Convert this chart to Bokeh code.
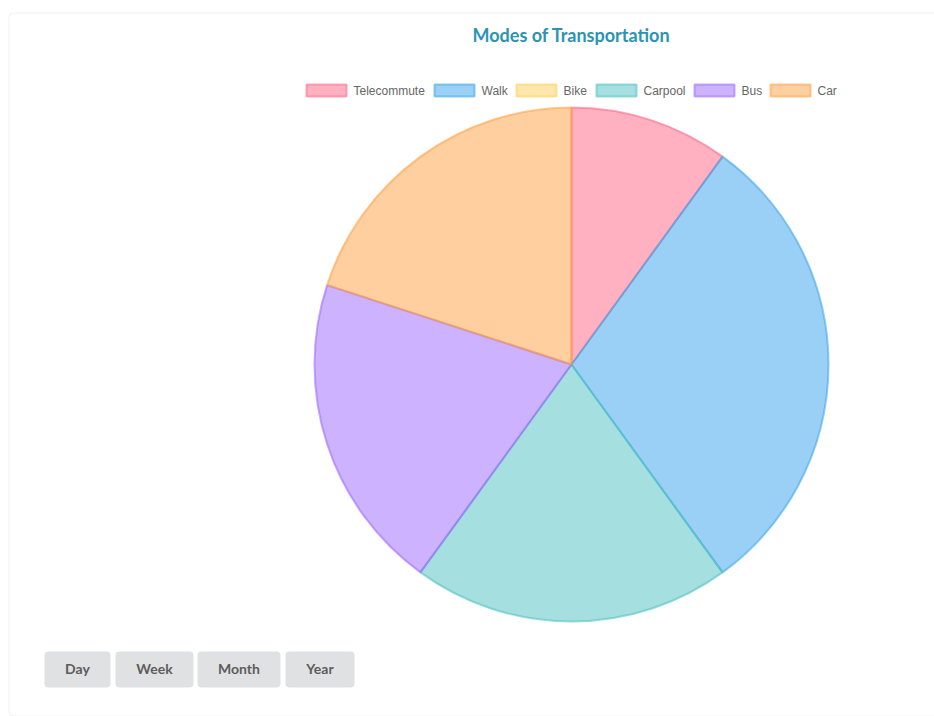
import math
from bokeh.plotting import figure
from bokeh.models import Range1d, BoxAnnotation, ColumnDataSource
from bokeh.core.properties import value
from bokeh.embed import file_html
from bokeh.resources import INLINE

# ---- data ----
title = "Modes of Transportation"
categories = ["Telecommute", "Walk", "Bike", "Carpool", "Bus", "Car"]
values = [10, 30, 0, 20, 20, 20]
colors = ["#ff6384", "#36a2eb", "#ffce56", "#4bc0c0", "#9966ff", "#ff9f40"]
buttons = ["Day", "Week", "Month", "Year"]

# ---- layout ----
W, H = 934, 716
def Y(py):
    return H - py

p = figure(width=W, height=H, x_range=Range1d(0, W), y_range=Range1d(0, H),
           output_backend="svg", toolbar_location=None, min_border=0,
           x_axis_location=None, y_axis_location=None)
p.grid.visible = False
p.outline_line_color = None
p.background_fill_color = "white"
p.border_fill_color = "white"

# card
p.add_layout(BoxAnnotation(left=8.5, right=W + 20, top=Y(12.5), bottom=Y(715.5),
                           fill_color="white", fill_alpha=1.0, line_color="#cfcfd1",
                           line_width=1, border_radius=4, level="underlay"))

# buttons (backgrounds)
b_left = [44, 115, 197, 285]
b_right = [110, 193, 280, 354]
b_top, b_bot = 651, 687
for l, rr in zip(b_left, b_right):
    p.add_layout(BoxAnnotation(left=l, right=rr, top=Y(b_top), bottom=Y(b_bot),
                               fill_color="#e0e1e2", fill_alpha=1.0, line_color=None,
                               border_radius=4, level="underlay"))
p.text(x=[(l + rr) / 2 for l, rr in zip(b_left, b_right)], y=[Y((b_top + b_bot) / 2 - 1)] * 4,
       text=buttons, text_align="center", text_baseline="middle", text_font=value("Lato"),
       text_font_style="bold", text_font_size="14px", text_color="#5c5c5c")

# title
p.text(x=[571], y=[Y(34)], text=[title], text_align="center", text_baseline="middle",
       text_font=value("Lato"), text_font_style="bold", text_font_size="18px",
       text_color="#2a94b4")

# legend
leg_x = [306, 434, 516, 596, 694, 770]
box_w, box_h, leg_y = 40, 12, 90
p.quad(left=leg_x, right=[x + box_w for x in leg_x],
       top=[Y(leg_y - box_h / 2)] * len(leg_x), bottom=[Y(leg_y + box_h / 2)] * len(leg_x),
       fill_color=colors, fill_alpha=0.5, line_color=colors, line_alpha=0.55, line_width=2)
p.text(x=[x + box_w + 7 for x in leg_x], y=[Y(leg_y)] * len(leg_x), text=categories,
       text_align="left", text_baseline="middle", text_font=value("Liberation Sans"),
       text_font_size="12px", text_color="#666666")

# pie
total = float(sum(values))
cx, cy, r = 571, Y(364), 257
st, en, cols = [], [], []
acc = 0.0
for v, c in zip(values, colors):
    s = math.pi / 2 - 2 * math.pi * acc / total
    acc += v
    e = math.pi / 2 - 2 * math.pi * acc / total
    if v > 0:
        st.append(s); en.append(e); cols.append(c)
src = ColumnDataSource(dict(x=[cx] * len(st), y=[cy] * len(st), start=st, end=en, color=cols))
p.wedge(x="x", y="y", radius=r, start_angle="start", end_angle="end", direction="clock",
        fill_color="color", fill_alpha=0.5, line_color="color", line_alpha=0.55,
        line_width=2, source=src)

open("out.html", "w").write(file_html(p, INLINE))
